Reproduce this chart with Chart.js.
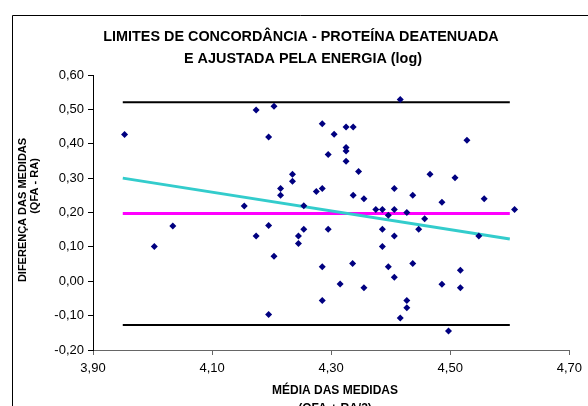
<!DOCTYPE html>
<html>
<head>
<meta charset="utf-8">
<script src="https://cdn.jsdelivr.net/npm/chart.js@4.4.1/dist/chart.umd.min.js"></script>
<style>
  html, body { margin: 0; padding: 0; background: #fff; }
  #wrap { width: 588px; height: 406px; position: relative; }
</style>
</head>
<body>
<div id="wrap"><canvas id="chart" width="588" height="406"></canvas></div>
<script>
// media das medidas (x) e diferenca (y)
const mediaX = [3.953, 4.003, 4.034, 4.154, 4.174, 4.174, 4.195, 4.195, 4.195, 4.204,
  4.204, 4.215, 4.215, 4.235, 4.235, 4.245, 4.245, 4.254, 4.254, 4.275,
  4.285, 4.285, 4.285, 4.285, 4.295, 4.295, 4.305, 4.315, 4.325, 4.325,
  4.325, 4.325, 4.337, 4.337, 4.336, 4.346, 4.355, 4.355, 4.375, 4.386,
  4.386, 4.386, 4.396, 4.396, 4.406, 4.406, 4.406, 4.406, 4.416, 4.416,
  4.427, 4.427, 4.427, 4.437, 4.437, 4.447, 4.457, 4.466, 4.486, 4.486,
  4.497, 4.508, 4.517, 4.517, 4.528, 4.548, 4.557, 4.608];
const diferencaY = [0.427, 0.101, 0.161, 0.219, 0.498, 0.132, 0.420, 0.162, -0.097, 0.509,
  0.073, 0.270, 0.250, 0.311, 0.291, 0.132, 0.110, 0.220, 0.151, 0.261,
  0.458, 0.270, 0.042, -0.056, 0.369, 0.151, 0.428, -0.008, 0.449, 0.389,
  0.379, 0.349, 0.449, 0.250, 0.052, 0.319, 0.240, -0.019, 0.209, 0.209,
  0.151, 0.101, 0.192, 0.042, 0.270, 0.209, 0.132, 0.012, 0.529, -0.107,
  0.200, -0.056, -0.077, 0.250, 0.052, 0.151, 0.182, 0.311, 0.230, -0.009,
  -0.145, 0.301, 0.032, -0.019, 0.410, 0.132, 0.240, 0.209];

// limites de concordancia e reta de tendencia
const limiteX = [3.95, 4.60];
const limiteSuperior = [0.521, 0.521];
const mediaDiferenca = [0.197, 0.197];
const limiteInferior = [-0.127, -0.127];
const tendencia = [0.300, 0.123];

const xTicks = [3.9, 4.1, 4.3, 4.5, 4.7];

function pares(xs, ys) {
  return xs.map((x, i) => ({ x: x, y: ys[i] }));
}

function fmt(v) {
  return v.toFixed(2).replace('.', ',');
}

const FONTE = '"Liberation Sans", Arial, sans-serif';

// titulos e moldura desenhados a mao
const textos = {
  id: 'textos',
  afterDraw(chart) {
    const ctx = chart.ctx;
    ctx.save();
    ctx.strokeStyle = '#000';
    ctx.lineWidth = 1;
    ctx.beginPath();
    ctx.moveTo(12.5, 420);
    ctx.lineTo(12.5, 15.5);
    ctx.lineTo(600, 15.5);
    ctx.stroke();

    ctx.fillStyle = '#000';
    ctx.textAlign = 'center';
    ctx.textBaseline = 'middle';
    ctx.font = 'bold 14.4px ' + FONTE;
    ctx.fillText('LIMITES DE CONCORDÂNCIA - PROTEÍNA DEATENUADA', 301, 37);
    ctx.fillText('E AJUSTADA PELA ENERGIA (log)', 303, 59);

    ctx.font = 'bold 12px ' + FONTE;
    ctx.fillText('MÉDIA DAS MEDIDAS', 335, 391);
    ctx.fillText('(QFA + RA/2)', 335, 409);

    ctx.font = 'bold 11px ' + FONTE;
    ctx.translate(23, 210);
    ctx.rotate(-Math.PI / 2);
    ctx.fillText('DIFERENÇA DAS MEDIDAS', 0, 0);
    ctx.fillText('(QFA - RA)', 24, 12);
    ctx.restore();
  }
};

const ctx = document.getElementById('chart').getContext('2d');
new Chart(ctx, {
  type: 'scatter',
  data: {
    datasets: [
      {
        label: 'pontos',
        data: pares(mediaX, diferencaY),
        pointStyle: 'rectRot',
        pointRadius: 3.5,
        backgroundColor: '#000080',
        borderColor: '#000080',
        borderWidth: 0
      },
      {
        label: 'tendencia',
        data: pares(limiteX, tendencia),
        showLine: true,
        borderColor: '#33CCCC',
        borderWidth: 3,
        pointRadius: 0
      },
      {
        label: 'media',
        data: pares(limiteX, mediaDiferenca),
        showLine: true,
        borderColor: '#FF00FF',
        borderWidth: 3,
        pointRadius: 0
      },
      {
        label: 'superior',
        data: pares(limiteX, limiteSuperior),
        showLine: true,
        borderColor: '#000',
        borderWidth: 2,
        pointRadius: 0
      },
      {
        label: 'inferior',
        data: pares(limiteX, limiteInferior),
        showLine: true,
        borderColor: '#000',
        borderWidth: 2,
        pointRadius: 0
      }
    ]
  },
  options: {
    responsive: false,
    animation: false,
    devicePixelRatio: 1,
    layout: { padding: { top: 75, left: 0, right: 18, bottom: 0 } },
    plugins: {
      legend: { display: false },
      title: { display: false },
      tooltip: { enabled: false }
    },
    scales: {
      x: {
        type: 'linear',
        min: 3.9,
        max: 4.7,
        afterBuildTicks(scale) {
          scale.ticks = xTicks.map(v => ({ value: v }));
        },
        afterFit(scale) { scale.height = 56; },
        ticks: {
          callback: v => fmt(v),
          color: '#000',
          padding: 6,
          maxRotation: 0,
          autoSkip: false,
          font: { family: FONTE, size: 13 }
        },
        grid: {
          drawOnChartArea: false,
          tickLength: 5,
          color: '#666'
        },
        border: { color: '#666', width: 1 }
      },
      y: {
        min: -0.2,
        max: 0.6,
        afterFit(scale) { scale.width = 93; },
        ticks: {
          stepSize: 0.1,
          callback: v => fmt(v),
          color: '#000',
          padding: 4,
          font: { family: FONTE, size: 13 }
        },
        grid: {
          drawOnChartArea: false,
          tickLength: 5,
          color: '#000'
        },
        border: { color: '#000', width: 1 }
      }
    }
  },
  plugins: [textos]
});
</script>
</body>
</html>
